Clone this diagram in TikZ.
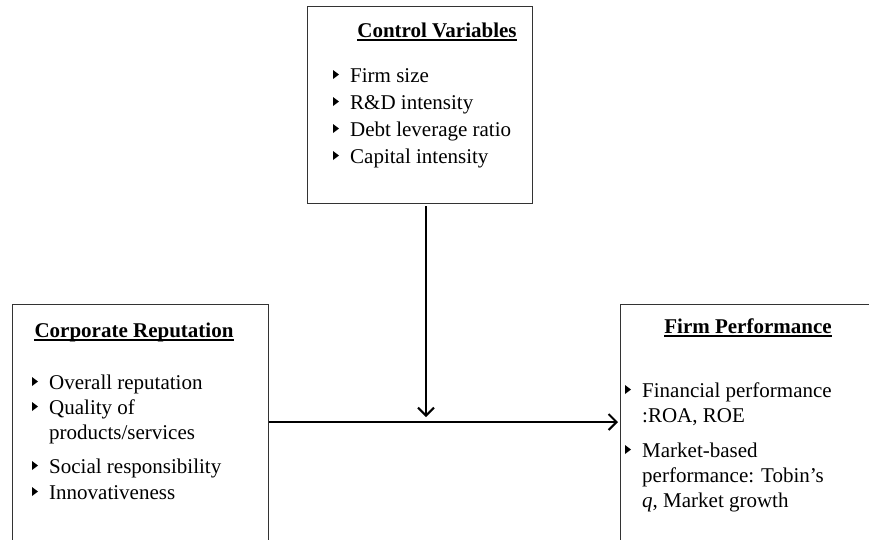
\documentclass[tikz,border=0pt]{standalone}
\usepackage{fontspec}
\setmainfont{Liberation Serif}
\usetikzlibrary{arrows.meta,calc}
\begin{document}
\begin{tikzpicture}[x=1pt,y=-1pt,
  txt/.style={font=\fontsize{21}{25}\selectfont, inner sep=0pt, anchor=base west},
  ttl/.style={font=\bfseries\fontsize{21}{25}\selectfont, inner sep=0pt, anchor=base},
  frame/.style={draw=black!80, line width=1pt, inner sep=0pt},
  uline/.style={line width=1.6pt},
  bul/.style={fill=black},
  arr/.style={line width=2pt, -{Straight Barb[length=8pt,width=16pt]}}
]
\useasboundingbox (0,0) rectangle (869,539);
\clip (0,0) rectangle (869,539);
\fill[white] (0,0) rectangle (869,539);

\newcommand\bulat[1]{\fill[bul] ($(#1.base west)+(-17,-3)$) -- ++(0,-9) -- ++(6,4.5) -- cycle;}

% boxes
\node[frame, anchor=north west, minimum width=225pt, minimum height=197pt] (cv) at (307,6) {};
\node[frame, anchor=north west, minimum width=256pt, minimum height=300pt] (cr) at (12,304) {};
\node[frame, anchor=north west, minimum width=300pt, minimum height=300pt] (fp) at (620,304) {};

% Control variables
\node[ttl] (cvt) at (437,37) {Control Variables};
\draw[uline] ([yshift=-3pt]cvt.base west) -- ([yshift=-3pt]cvt.base east);
\node[txt] (c1) at (350,82) {Firm size};
\node[txt] (c2) at (350,109) {R\&D intensity};
\node[txt] (c3) at (350,136) {Debt leverage ratio};
\node[txt] (c4) at (350,163) {Capital intensity};
\bulat{c1}\bulat{c2}\bulat{c3}\bulat{c4}

% Corporate reputation
\node[ttl] (crt) at (134,337) {Corporate Reputation};
\draw[uline] ([yshift=-3pt]crt.base west) -- ([yshift=-3pt]crt.base east);
\node[txt] (r1) at (49,389) {Overall reputation};
\node[txt] (r2) at (49,414) {Quality of};
\node[txt] (r2b) at (49,439) {products/services};
\node[txt] (r3) at (49,473) {Social responsibility};
\node[txt] (r4) at (49,499) {Innovativeness};
\bulat{r1}\bulat{r2}\bulat{r3}\bulat{r4}

% Firm performance
\node[ttl] (fpt) at (748,333) {Firm Performance};
\draw[uline] ([yshift=-3pt]fpt.base west) -- ([yshift=-3pt]fpt.base east);
\node[txt] (f1) at (642,397) {Financial performance};
\node[txt] (f1b) at (642,422) {:ROA, ROE};
\node[txt] (f2) at (642,457) {Market-based};
\node[txt] (f2b) at (642,482) {performance: Tobin's};
\node[txt] (f2c) at (642,507) {\textit{q}, Market growth};
\bulat{f1}\bulat{f2}

% arrows
\coordinate (m) at (426,422);
\draw[arr] ([yshift=-2pt]cv.south -| m) -- ([yshift=5pt]m);
\draw[arr, shorten >=2pt] (cr.east |- m) -- (fp.west |- m);
\end{tikzpicture}
\end{document}
